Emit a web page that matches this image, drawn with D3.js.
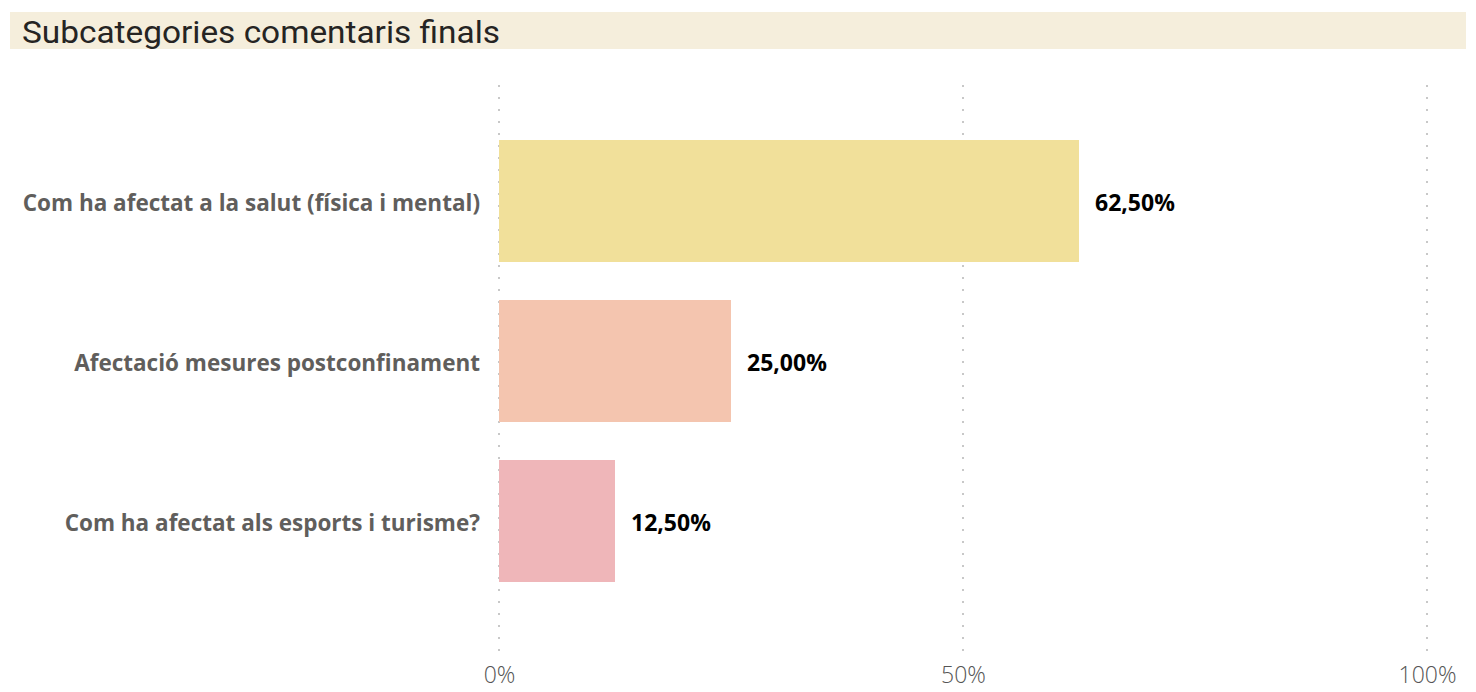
<!DOCTYPE html>
<html>
<head>
<meta charset="utf-8">
<script src="https://cdn.jsdelivr.net/npm/d3@7"></script>
<style>
  body { margin: 0; background: #fff; }
  svg { display: block; }
</style>
</head>
<body>
<svg id="chart" width="1476" height="692"></svg>
<script>
var categories = ["Com ha afectat a la salut (física i mental)", "Afectació mesures postconfinament", "Com ha afectat als esports i turisme?"];
var values = [62.5, 25.0, 12.5];
var barColors = ["#F1E09A", "#F4C5AF", "#EFB6B9"];
var tickValues = [0, 50, 100];

var svg = d3.select("#chart"),
    width = 1476,
    height = 692;

// title band
svg.append("rect")
  .attr("x", 10).attr("y", 12)
  .attr("width", 1456).attr("height", 37)
  .attr("fill", "#F5EEDC");

svg.append("text")
  .attr("x", 22).attr("y", 43)
  .attr("font-family", "Roboto, 'DejaVu Sans', sans-serif")
  .attr("font-size", 31)
  .attr("fill", "#252423")
  .attr("textLength", 478)
  .attr("lengthAdjust", "spacingAndGlyphs")
  .text("Subcategories comentaris finals");

var x = d3.scaleLinear().domain([0, 100]).range([499, 1427]);
var y = d3.scaleBand().domain(categories).range([80, 642]).paddingInner(0.2375).paddingOuter(0.375);

// dotted gridlines
svg.append("g")
  .attr("class", "grid")
  .selectAll("line")
  .data(tickValues)
  .enter()
  .append("line")
  .attr("x1", function(d){ return x(d); })
  .attr("x2", function(d){ return x(d); })
  .attr("y1", 85)
  .attr("y2", 653)
  .attr("stroke", "#C8C8C8")
  .attr("stroke-width", 2)
  .attr("stroke-dasharray", "2,10");

// x axis labels
var xAxis = d3.axisBottom(x).tickValues(tickValues).tickSize(0).tickPadding(0)
  .tickFormat(function(d){ return d + "%"; });
var gx = svg.append("g").attr("transform", "translate(0,667)").call(xAxis);
gx.select(".domain").remove();
gx.selectAll("text")
  .attr("font-family", "'Open Sans', 'Noto Sans', sans-serif")
  .attr("font-weight", 300)
  .attr("font-size", 23)
  .attr("fill", "#555555");

// bars
svg.append("g")
  .selectAll("rect")
  .data(values)
  .enter()
  .append("rect")
  .attr("x", x(0))
  .attr("y", function(d, i){ return y(categories[i]); })
  .attr("width", function(d){ return x(d) - x(0); })
  .attr("height", y.bandwidth())
  .attr("fill", function(d, i){ return barColors[i]; });

// category labels
var yAxis = d3.axisLeft(y).tickSize(0).tickPadding(19);
var gy = svg.append("g").attr("transform", "translate(" + x(0) + ",0)").call(yAxis);
gy.select(".domain").remove();
gy.selectAll("text")
  .attr("font-family", "'Open Sans', 'Noto Sans', sans-serif")
  .attr("font-weight", 700)
  .attr("font-size", 22.5)
  .attr("dy", "0.45em")
  .attr("fill", "#605E5C");

// value labels
svg.append("g")
  .selectAll("text")
  .data(values)
  .enter()
  .append("text")
  .attr("x", function(d){ return x(d) + 16; })
  .attr("y", function(d, i){ return y(categories[i]) + y.bandwidth() / 2; })
  .attr("dy", "0.45em")
  .attr("font-family", "'Open Sans', 'Noto Sans', sans-serif")
  .attr("font-weight", 700)
  .attr("font-size", 23)
  .attr("fill", "#000")
  .text(function(d){ return d.toFixed(2).replace(".", ",") + "%"; });
</script>
</body>
</html>
